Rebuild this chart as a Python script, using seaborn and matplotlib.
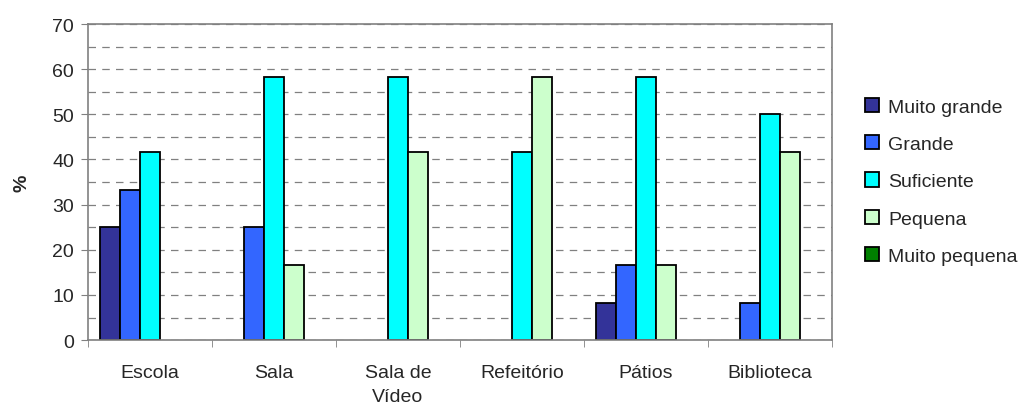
import numpy as np
import pandas as pd
import seaborn as sns
import matplotlib.pyplot as plt

# data
locais = ['Escola', 'Sala', 'Sala de\nVídeo', 'Refeitório', 'Pátios', 'Biblioteca']
tamanhos = ['Muito grande', 'Grande', 'Suficiente', 'Pequena', 'Muito pequena']
muito_grande = [25.0, 0, 0, 0, 8.3, 0]
grande = [33.3, 25.0, 0, 0, 16.7, 8.3]
suficiente = [41.7, 58.3, 58.3, 41.7, 58.3, 50.0]
pequena = [0, 16.7, 41.7, 58.3, 16.7, 41.7]
muito_pequena = [0, 0, 0, 0, 0, 0]
cores = ['#333399', '#3366FF', '#00FFFF', '#CCFFCC', '#008000']

series = [muito_grande, grande, suficiente, pequena, muito_pequena]
rows = []
for t, vals in zip(tamanhos, series):
    for loc, v in zip(locais, vals):
        rows.append({'local': loc, 'tamanho': t, 'pct': v if v > 0 else np.nan})
df = pd.DataFrame(rows)

sns.set_style('white')
plt.rcParams['font.family'] = ['Liberation Sans', 'DejaVu Sans']

fig = plt.figure(figsize=(10.25, 4.1), dpi=100)
ax = fig.add_axes([0.0859, 0.168, 0.7258, 0.771])

sns.barplot(data=df, x='local', y='pct', hue='tamanho', order=locais,
            hue_order=tamanhos, palette=cores, width=0.8, gap=0,
            edgecolor='black', linewidth=1.3, saturation=1, ax=ax)

ax.set_xlim(-0.5, len(locais) - 0.5)
ax.set_ylim(0, 70)
ax.set_yticks(range(0, 71, 10))
ax.set_yticks(range(0, 71, 5), minor=True)
ax.yaxis.grid(True, which='both', linestyle=(0, (6, 5)), color='#808080', linewidth=0.9)
ax.set_axisbelow(True)

ax.set_xticks(np.arange(-0.5, len(locais), 1), minor=True)
ax.tick_params(axis='x', which='major', length=0, pad=17, labelsize=14)
ax.tick_params(axis='x', which='minor', length=5, color='#808080', direction='out', bottom=True)
ax.tick_params(axis='y', which='major', length=5, color='#808080', direction='out', left=True,
               labelsize=14, pad=5)
ax.tick_params(axis='y', which='minor', length=0)
for lab in ax.get_xticklabels():
    lab.set_linespacing(1.55)

for s in ax.spines.values():
    s.set_color('#808080')
    s.set_linewidth(1.2)

ax.set_xlabel('')
ax.set_ylabel('%', fontsize=14, fontweight='bold', labelpad=16)

handles, labels = ax.get_legend_handles_labels()
ax.legend_.remove()
fig.legend(handles, labels, loc='center left', bbox_to_anchor=(0.836, 0.555),
           frameon=False, fontsize=14, handlelength=0.75, handleheight=0.75,
           handletextpad=0.45, labelspacing=1.0, borderaxespad=0)

fig.savefig('out.png', dpi=100)
plt.close()
